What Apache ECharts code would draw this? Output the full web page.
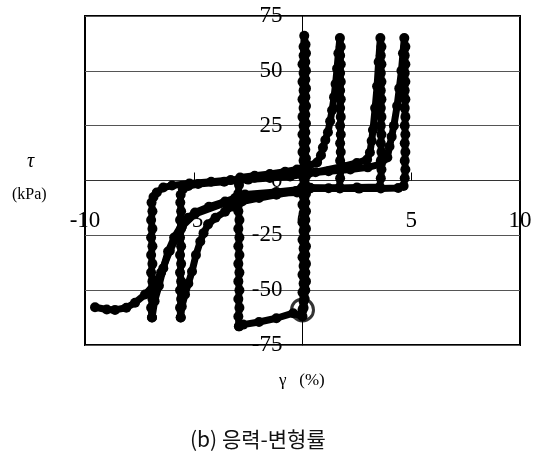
<!DOCTYPE html>
<html>
<head>
<meta charset="utf-8">
<script src="https://cdn.jsdelivr.net/npm/echarts/dist/echarts.min.js"></script>
<style>
  html, body { margin: 0; padding: 0; background: #fff; }
  #chart { width: 542px; height: 454px; }
</style>
</head>
<body>
<div id="chart"></div>
<script>
// Axis ranges (shear strain %, shear stress kPa)
const strainTicks = [-10, -5, 0, 5, 10];
const stressTicks = [-75, -50, -25, 0, 25, 50, 75];

// Starting state of the test
const startPoint = [[0, -59]];

// Early cycles at near-zero strain, then first drift to the negative side
const pathZero = [
  [0, -59], [0.05, -55], [0, -51], [0.05, -47], [0, -43], [0.05, -39], [0, -35], [0.05, -31],
  [0, -27], [0.05, -23], [0, -19], [0.05, -15], [0, -11], [0.05, -7], [0, -3], [0.05, 1],
  [0, 5], [0.05, 9], [0, 13], [0.05, 17], [0, 21], [0.05, 25], [0, 29], [0.05, 33], [0, 37],
  [0.05, 41], [0, 45], [0.05, 49], [0, 53], [0.05, 57], [0.05, 61], [0.08, 66],
  [0.14, 62], [0.16, 58], [0.13, 54], [0.16, 50], [0.13, 46], [0.16, 42], [0.13, 38], [0.16, 34],
  [0.13, 30], [0.16, 26], [0.13, 22], [0.16, 18], [0.13, 14], [0.16, 10], [0.13, 6], [0.16, 2],
  [0.13, -2], [0.16, -6], [0.13, -10], [0.16, -14], [0.13, -18], [0.16, -22], [0.13, -26],
  [0.16, -30], [0.13, -34], [0.16, -38], [0.13, -42], [0.16, -46], [0.13, -50], [0.1, -54],
  [0.05, -58], [0, -62], [-0.43, -60.5], [-1.2, -62.8], [-2.0, -64.5], [-2.73, -65.7],
  [-2.92, -66.5]
];

// Reload at -2.9 % and first excursion to +1.7 %
const pathCycle1 = [
  [-2.92, -66.5], [-2.95, -62], [-2.9, -58], [-2.95, -54], [-2.9, -50], [-2.95, -46], [-2.9, -42],
  [-2.95, -38], [-2.9, -34], [-2.95, -30], [-2.9, -26], [-2.95, -22], [-2.9, -18], [-2.95, -14],
  [-2.9, -10], [-2.95, -6], [-2.92, -2], [-2.87, 1.4], [-2.2, 2.2],
  [-1.5, 3.0], [-0.8, 4.0], [-0.25, 5.0], [0.3, 6.8], [0.67, 8.2], [0.85, 11.5], [0.94, 15],
  [1.05, 18.5], [1.17, 22], [1.27, 27], [1.36, 32], [1.45, 38], [1.52, 44], [1.59, 51], [1.65, 58],
  [1.72, 65], [1.76, 61], [1.73, 57], [1.76, 53], [1.73, 49], [1.76, 45], [1.73, 41], [1.76, 37],
  [1.73, 33], [1.76, 29], [1.73, 25], [1.76, 21], [1.73, 17], [1.76, 13], [1.73, 9], [1.76, 5],
  [1.73, 1], [1.7, -3.3],
  [1.2, -3.5], [0.35, -3.6], [-0.3, -4.8], [-1.2, -6.5], [-2.0, -8], [-2.78, -9.6], [-3.2, -11.8],
  [-3.56, -14.2], [-4.0, -17], [-4.34, -20], [-4.55, -24], [-4.7, -27.8], [-4.9, -34],
  [-5.08, -41.5], [-5.25, -47], [-5.4, -52], [-5.55, -57.5], [-5.6, -62.5]
];

// Reload at -5.6 % and excursion to +3.6 %
const pathCycle2 = [
  [-5.6, -62.5], [-5.63, -58], [-5.58, -54], [-5.63, -50], [-5.58, -46], [-5.63, -42],
  [-5.58, -38], [-5.63, -34], [-5.58, -30], [-5.63, -26], [-5.58, -22], [-5.63, -18],
  [-5.58, -14], [-5.62, -10], [-5.6, -6.5], [-5.5, -4],
  [-5.25, -2.5], [-4.8, -1.6], [-3.6, -0.6], [-2.5, 0.4], [-1.5, 1.1], [-0.57, 1.8], [0.6, 3.8],
  [1.86, 6.4], [2.5, 8], [2.97, 9.6], [3.1, 12.8], [3.18, 18], [3.24, 23], [3.34, 33], [3.43, 43],
  [3.5, 54], [3.58, 65], [3.63, 61], [3.6, 57], [3.63, 53], [3.6, 49], [3.63, 45], [3.6, 41],
  [3.63, 37], [3.6, 33], [3.63, 29], [3.6, 25], [3.63, 21], [3.6, 17], [3.63, 13], [3.6, 9],
  [3.63, 5], [3.6, 1], [3.55, -3],
  [2.5, -3.2], [1.72, -3.4], [0.35, -3.3], [-0.1, -4.1], [-1.2, -5.2], [-2.64, -6.4], [-3.1, -8],
  [-3.56, -9.6], [-4.3, -12], [-4.94, -14.6], [-5.25, -17], [-5.54, -20], [-5.9, -26],
  [-6.18, -32.4], [-6.4, -40], [-6.6, -48], [-6.8, -55], [-6.92, -62.5]
];

// Reload at -6.9 %, excursion to +4.7 % and final unloading
const pathCycle3 = [
  [-6.92, -62.5], [-6.96, -58], [-6.9, -54], [-6.96, -50], [-6.9, -46], [-6.96, -42], [-6.9, -38],
  [-6.96, -34], [-6.9, -30], [-6.96, -26], [-6.9, -22], [-6.96, -18], [-6.9, -14], [-6.94, -10],
  [-6.85, -7.5], [-6.7, -5.5], [-6.4, -3.2], [-6.0, -2.3], [-5.2, -1.4],
  [-4.2, -0.6], [-3.3, 0.2], [-2.2, 1.3], [-1.0, 2.4], [0.3, 3.4], [1.2, 4.2], [2.2, 5.0],
  [3.0, 6.0], [3.6, 7.5], [3.9, 10.5], [4.0, 15.5], [4.1, 20], [4.2, 25], [4.35, 34], [4.45, 42],
  [4.55, 50], [4.62, 58], [4.68, 65], [4.73, 61], [4.7, 57], [4.73, 53], [4.7, 49], [4.73, 45],
  [4.7, 41], [4.73, 37], [4.7, 33], [4.73, 29], [4.7, 25], [4.73, 21], [4.7, 17], [4.73, 13],
  [4.7, 9], [4.73, 5], [4.7, 1],
  [4.65, -2.5], [4.4, -3.4], [3.6, -3.6], [2.6, -3.7], [1.72, -3.6], [0.35, -3.4], [-0.25, -5.5],
  [-1.2, -5.8], [-2.64, -7], [-3.56, -10.2], [-4.94, -15.2], [-5.54, -21], [-6.1, -32],
  [-6.5, -42], [-6.85, -48], [-7.24, -52], [-7.7, -55.7], [-8.1, -58], [-8.62, -59],
  [-9.0, -58.8], [-9.54, -57.8]
];

// Thin intermediate branch on the negative side
const pathThin = [
  [-5.2, -18], [-4.83, -14.6], [-4.2, -11.5], [-3.6, -9.2], [-3.0, -7.4], [-2.4, -6.3]
];

const thickPaths = [pathZero, pathCycle1, pathCycle2, pathCycle3];

const chart = echarts.init(document.getElementById('chart'), null, { renderer: 'canvas' });

const serif = 'Liberation Serif, Times New Roman, serif';

// Plot rectangle
const gridBox = { left: 85, top: 16, width: 435, height: 329 };

// Shift both axes so they cross at the origin (labels travel with them)
const xMin = strainTicks[0], xMax = strainTicks[strainTicks.length - 1];
const yMin = stressTicks[0], yMax = stressTicks[stressTicks.length - 1];
const yAxisShift = -(0 - xMin) / (xMax - xMin) * gridBox.width;
const xAxisShift = -(0 - yMin) / (yMax - yMin) * gridBox.height;

const series = thickPaths.map(p => ({
  type: 'line',
  data: p,
  symbol: 'circle',
  symbolSize: 10,
  showSymbol: true,
  showAllSymbol: true,
  smooth: false,
  lineStyle: { color: '#000', width: 7, cap: 'round', join: 'round' },
  itemStyle: { color: '#000' },
  z: 3,
  silent: true
}));

series.push({
  type: 'line',
  data: pathThin,
  symbol: 'none',
  lineStyle: { color: '#000', width: 1.5 },
  z: 3,
  silent: true
});

series.push({
  type: 'scatter',
  data: startPoint,
  symbol: 'circle',
  symbolSize: 22,
  itemStyle: { color: 'rgba(0,0,0,0)', borderColor: '#000', borderWidth: 3 },
  z: 4,
  silent: true
});

chart.setOption({
  animation: false,
  backgroundColor: '#fff',
  grid: Object.assign({
    show: true, borderColor: '#000', borderWidth: 2, backgroundColor: 'transparent'
  }, gridBox),
  xAxis: {
    type: 'value',
    position: 'bottom',
    offset: xAxisShift,
    min: xMin, max: xMax, interval: 5,
    axisLine: { show: true, onZero: false, lineStyle: { color: '#333', width: 1 } },
    axisTick: { show: true, inside: true, length: 8, lineStyle: { color: '#000', width: 1 } },
    axisLabel: {
      show: true, margin: 29, color: '#000', fontFamily: serif, fontSize: 23,
      showMinLabel: true, showMaxLabel: true
    },
    splitLine: { show: false }
  },
  yAxis: {
    type: 'value',
    position: 'left',
    offset: yAxisShift,
    min: yMin, max: yMax, interval: 25,
    axisLine: { show: true, onZero: false, lineStyle: { color: '#000', width: 1 } },
    axisTick: { show: false },
    axisLabel: {
      show: true, margin: 20, color: '#000', fontFamily: serif, fontSize: 23,
      showMinLabel: true, showMaxLabel: true
    },
    splitLine: { show: true, lineStyle: { color: '#555', width: 1 } }
  },
  graphic: [
    { type: 'text', left: 27, top: 152, style: { text: 'τ', font: 'italic 20px ' + serif, fill: '#000' } },
    { type: 'text', left: 12, top: 187, style: { text: '(kPa)', font: '16px ' + serif, fill: '#000' } },
    { type: 'text', left: 279, top: 372, style: { text: 'γ   (%)', font: '17px ' + serif, fill: '#000' } },
    { type: 'text', left: 190, top: 429, style: { text: '(b) 응력-변형률', font: '21px "Noto Sans CJK KR", sans-serif', fill: '#111' } }
  ],
  series: series
});
</script>
</body>
</html>
